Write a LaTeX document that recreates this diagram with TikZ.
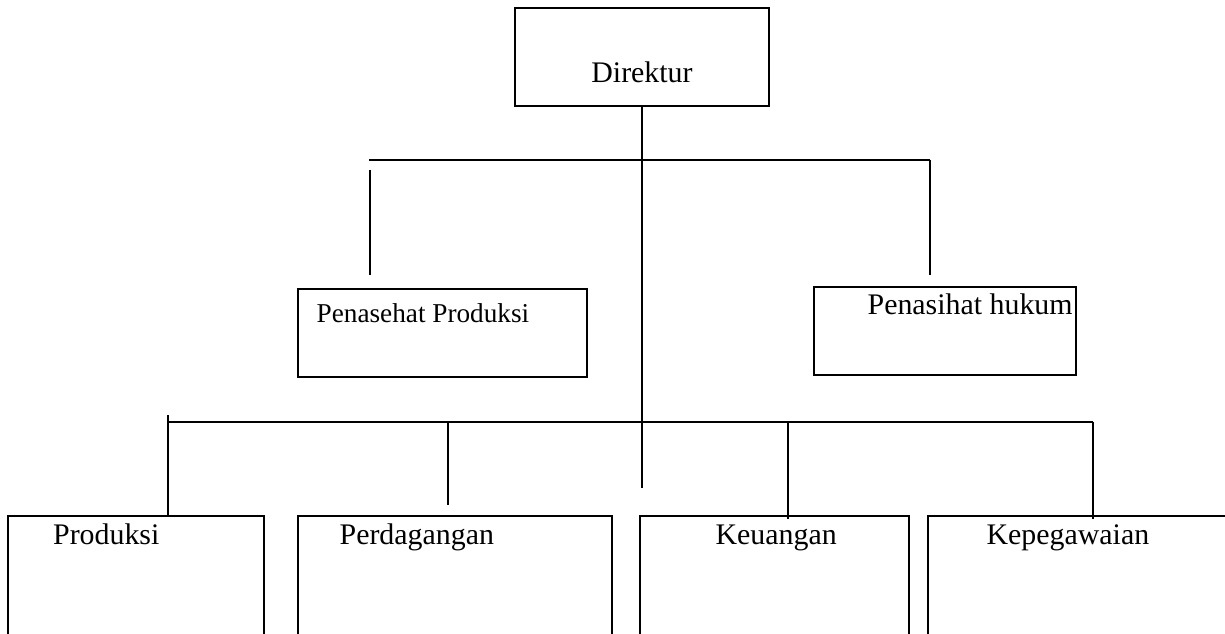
\documentclass[tikz,border=0pt]{standalone}
\usepackage{fontspec}
\setmainfont{Liberation Serif}
\usepackage{tikz}
\usetikzlibrary{positioning, calc}

\begin{document}
\begin{tikzpicture}[
    kotak/.style={rectangle,draw=black,line width=0.8pt,inner sep=0pt},
    teks/.style={font=\fontsize{17}{20}\selectfont,inner sep=0pt},
    garis/.style={line width=0.8pt}
]
    \useasboundingbox (0,0) rectangle (24.5,12.68);
    \clip (0,0) rectangle (24.5,12.68);

    % Direktur
    \node[kotak,minimum width=5.08cm,minimum height=1.96cm] (dir) at (12.84,11.54) {};
    \node[teks,anchor=base] at ([yshift=-0.52cm]dir.center) {Direktur};

    % Penasehat
    \node[kotak,minimum width=5.78cm,minimum height=1.76cm] (pprod) at (8.85,6.02) {};
    \node[teks,font=\fontsize{15.5}{18}\selectfont,anchor=base west] at ([xshift=0.38cm,yshift=-0.68cm]pprod.north west) {Penasehat Produksi};
    \node[kotak,minimum width=5.24cm,minimum height=1.76cm] (phukum) at (18.9,6.06) {};
    \node[teks,anchor=base west] at ([xshift=1.08cm,yshift=-0.56cm]phukum.north west) {Penasihat hukum};

    % Bagian bawah (terpotong di tepi gambar)
    \node[kotak,minimum width=5.12cm,minimum height=3.36cm] (prod) at (2.72,0.68) {};
    \node[teks,anchor=base west] at ([xshift=0.91cm,yshift=-0.58cm]prod.north west) {Produksi};
    \node[kotak,minimum width=6.28cm,minimum height=3.36cm] (perd) at (9.1,0.68) {};
    \node[teks,anchor=base west] at ([xshift=0.84cm,yshift=-0.58cm]perd.north west) {Perdagangan};
    \node[kotak,minimum width=5.38cm,minimum height=3.36cm] (keu) at (15.49,0.68) {};
    \node[teks,anchor=base west] at ([xshift=1.52cm,yshift=-0.58cm]keu.north west) {Keuangan};
    \node[kotak,minimum width=6.24cm,minimum height=3.36cm] (kep) at (21.68,0.68) {};
    \node[teks,anchor=base west] at ([xshift=1.18cm,yshift=-0.58cm]kep.north west) {Kepegawaian};

    % Garis dari direktur
    \coordinate (ujung) at (12.84,2.92);
    \draw[garis] (dir.south) -- (ujung);

    % Garis ke penasehat
    \coordinate (bus1kiri) at (7.38,9.48);
    \coordinate (bus1kanan) at (18.6,9.48);
    \coordinate (pkiri1) at (7.4,9.28);
    \coordinate (pkiri2) at (7.4,7.18);
    \coordinate (pkanan) at (18.6,7.18);
    \draw[garis] (bus1kiri) -- (bus1kanan);
    \draw[garis] (pkiri1) -- (pkiri2);
    \draw[garis] (bus1kanan) -- (pkanan);

    % Garis ke bagian bawah
    \coordinate (bus2kiri) at (3.36,4.24);
    \coordinate (bus2kanan) at (21.86,4.24);
    \coordinate (prodatas) at (3.36,4.38);
    \coordinate (perdatas) at (8.96,4.24);
    \coordinate (perdujung) at (8.96,2.58);
    \coordinate (keuatas) at (15.76,4.24);
    \draw[garis] (bus2kiri) -- (bus2kanan);
    \draw[garis] (prodatas) -- (prod.north -| prodatas);
    \draw[garis] (perdatas) -- (perdujung);
    \draw[garis] (keuatas) -- ($(keu.north -| keuatas)+(0,-0.08)$);
    \draw[garis] (bus2kanan) -- ($(kep.north -| bus2kanan)+(0,-0.08)$);
\end{tikzpicture}
\end{document}
